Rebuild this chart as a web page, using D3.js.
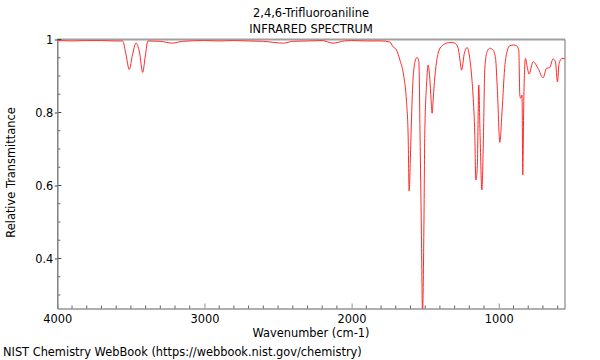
<!DOCTYPE html>
<html>
<head>
<meta charset="utf-8">
<script src="https://cdn.jsdelivr.net/npm/d3@7"></script>
<style>
  body { margin: 0; background: #fff; }
  text { font-family: "DejaVu Sans", sans-serif; }
</style>
</head>
<body>
<div id="chart"></div>
<script>
// spectrum: wavenumber (cm-1) and relative transmittance
const wavenumbers = [4000, 3900, 3800, 3700, 3600, 3556, 3533, 3511, 3489, 3465, 3442, 3420, 3401, 3384,
  3300, 3218, 3150, 3000, 2900, 2800, 2700, 2600, 2464, 2400, 2300, 2200, 2127, 2050, 2000, 1900, 1800,
  1740, 1718, 1695, 1672, 1645, 1627, 1616, 1609, 1601, 1593, 1582, 1566, 1555, 1543, 1535, 1526, 1518,
  1509, 1503, 1491, 1480, 1469, 1460, 1453, 1446, 1439, 1423, 1405, 1378, 1355, 1326, 1299, 1276, 1265,
  1253, 1244, 1236, 1215, 1197, 1185, 1175, 1163, 1156, 1152, 1145, 1136, 1127, 1115, 1104, 1095, 1079,
  1061, 1039, 1022, 1009, 993, 978, 960, 941, 925, 898, 880, 864, 857, 851, 842, 837, 830, 819, 805, 794,
  767, 733, 699, 676, 654, 631, 615, 601, 590, 570, 552];
const transmittance = [0.997, 0.996, 0.997, 0.997, 0.996, 0.996, 0.958, 0.918, 0.958, 0.990, 0.966, 0.910, 0.958, 0.996,
  0.995, 0.990, 0.995, 0.997, 0.996, 0.997, 0.996, 0.995, 0.990, 0.995, 0.996, 0.997, 0.990, 0.996, 0.997, 0.996, 0.996,
  0.993, 0.980, 0.971, 0.944, 0.898, 0.830, 0.738, 0.585, 0.670, 0.785, 0.895, 0.944, 0.951, 0.939, 0.738, 0.478, 0.245,
  0.478, 0.738, 0.875, 0.930, 0.894, 0.834, 0.798, 0.834, 0.875, 0.939, 0.971, 0.985, 0.990, 0.992, 0.990, 0.976, 0.948,
  0.916, 0.933, 0.958, 0.978, 0.948, 0.903, 0.848, 0.738, 0.615, 0.621, 0.665, 0.875, 0.738, 0.588, 0.738, 0.921, 0.967,
  0.976, 0.971, 0.948, 0.857, 0.718, 0.802, 0.921, 0.971, 0.983, 0.985, 0.983, 0.971, 0.848, 0.839, 0.848, 0.629, 0.830, 0.948, 0.921, 0.905,
  0.939, 0.921, 0.895, 0.921, 0.923, 0.947, 0.939, 0.884, 0.935, 0.948, 0.948];

const xTicks = [4000, 3000, 2000, 1000];
const yTicks = [0.4, 0.6, 0.8, 1];

const data = wavenumbers.map((w, i) => ({w: w, t: transmittance[i]}));

const W = 600, H = 360;
const fs = "11.4px";
const margin = {top: 39.5, right: 35, bottom: 51.5, left: 57.3};
const width = W - margin.left - margin.right,
    height = H - margin.top - margin.bottom;

const svg = d3.select("#chart").append("svg")
    .attr("width", W)
    .attr("height", H);

const g = svg.append("g")
    .attr("transform", `translate(${margin.left},${margin.top})`);

const x = d3.scaleLinear().domain([4000, 550]).range([0, width]);
const y = d3.scaleLinear().domain([0.263, 1]).range([height, 0]);

// frame: top and right in gray
g.append("line").attr("x1", 0).attr("x2", width).attr("y1", 0).attr("y2", 0)
    .attr("stroke", "#a0a0a0").attr("stroke-width", 2);
g.append("line").attr("x1", width).attr("x2", width).attr("y1", 0).attr("y2", height)
    .attr("stroke", "#707070").attr("stroke-width", 1);

// minor ticks (inside)
const xMinor = d3.range(4000, 549, -100).filter(v => !xTicks.includes(v));
g.append("g").selectAll("line").data(xMinor).join("line")
    .attr("x1", d => x(d)).attr("x2", d => x(d))
    .attr("y1", height).attr("y2", height - 3)
    .attr("stroke", "#606060");
const yMinor = d3.range(0.3, 1.0, 0.05).filter(v => !yTicks.some(t => Math.abs(t - v) < 1e-6));
g.append("g").selectAll("line").data(yMinor).join("line")
    .attr("x1", 0).attr("x2", 3)
    .attr("y1", d => y(d)).attr("y2", d => y(d))
    .attr("stroke", "#606060");
// inner part of the major y ticks
g.append("g").selectAll("line").data(yTicks).join("line")
    .attr("x1", 0).attr("x2", 4)
    .attr("y1", d => y(d)).attr("y2", d => y(d))
    .attr("stroke", "#404040");

// x axis
const xAxis = g.append("g")
    .attr("transform", `translate(0,${height})`)
    .call(d3.axisBottom(x).tickValues(xTicks).tickSizeInner(-5).tickSizeOuter(0).tickPadding(6.7).tickFormat(d3.format("d")));
xAxis.select(".domain").attr("stroke", "#606060");
xAxis.selectAll(".tick line").attr("stroke", "#909090");
xAxis.selectAll("text").style("font-size", fs).attr("fill", "#000");

// y axis
const yAxis = g.append("g")
    .call(d3.axisLeft(y).tickValues(yTicks).tickSizeInner(2.5).tickSizeOuter(0).tickPadding(1.5).tickFormat(d => d === 1 ? "1" : d3.format(".1f")(d)));
yAxis.select(".domain").attr("stroke", "#808080").attr("stroke-width", 1.5);
yAxis.selectAll(".tick line").attr("stroke", "#404040");
yAxis.selectAll("text").style("font-size", fs).attr("fill", "#000");

// spectrum line
g.append("clipPath").attr("id", "clip")
    .append("rect").attr("width", width).attr("height", height);

g.append("path")
    .datum(data)
    .attr("clip-path", "url(#clip)")
    .attr("fill", "none")
    .attr("stroke", "#ff2a2a")
    .attr("stroke-width", 1)
    .attr("d", d3.line().x(d => x(d.w)).y(d => y(d.t)).curve(d3.curveMonotoneX));

// titles and labels
svg.append("text").attr("x", 311).attr("y", 17.3).attr("text-anchor", "middle")
    .style("font-size", fs).text("2,4,6-Trifluoroaniline");
svg.append("text").attr("x", 311).attr("y", 33.3).attr("text-anchor", "middle")
    .style("font-size", fs).text("INFRARED SPECTRUM");
svg.append("text").attr("x", 311).attr("y", 337).attr("text-anchor", "middle")
    .style("font-size", fs).text("Wavenumber (cm-1)");
svg.append("text").attr("transform", "translate(14.5,172.5) rotate(-90)").attr("text-anchor", "middle")
    .style("font-size", fs).text("Relative Transmittance");
svg.append("text").attr("x", 3).attr("y", 356)
    .style("font-size", fs).text("NIST Chemistry WebBook (https://webbook.nist.gov/chemistry)");
</script>
</body>
</html>
